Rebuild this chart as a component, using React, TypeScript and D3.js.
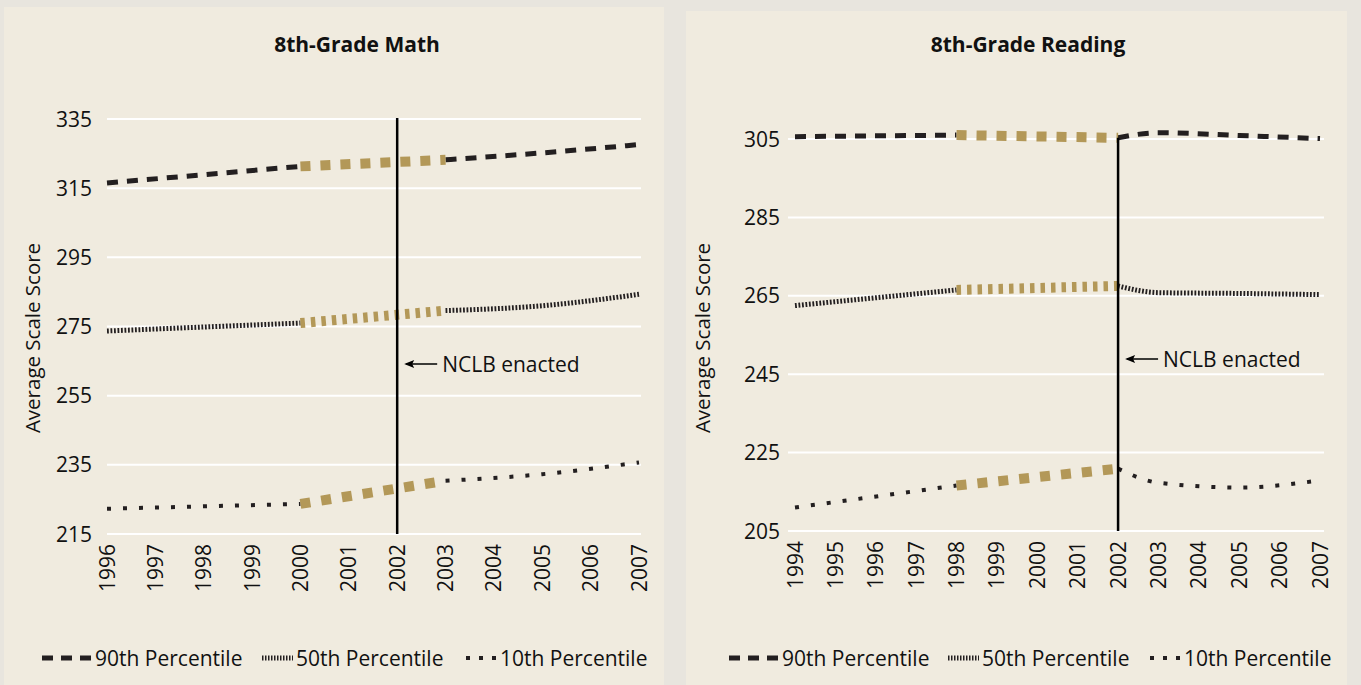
import { curveMonotoneX, line, scaleLinear, range } from "d3";

const BLACK = "#231f20";
const GOLD = "#b39858";
const FONT = "'Open Sans', Roboto, sans-serif";
const FS = 21;

// 8th-grade math (NAEP years)
const mathYears = [1996, 2000, 2003, 2005, 2007];
const math90 = [316.5, 321.3, 323.2, 325.2, 327.6];
const math50 = [273.7, 276, 279.6, 281, 284.3];
const math10 = [222.3, 223.7, 230.4, 232.3, 235.7];

// 8th-grade reading
const readYears = [1994, 1998, 2002, 2003, 2005, 2007];
const read90 = [305.6, 306, 305.3, 306.6, 305.9, 305.1];
const read50 = [262.5, 266.5, 267.5, 265.8, 265.6, 265.3];
const read10 = [211, 216.6, 220.9, 217.3, 216.1, 217.9];

const seriesNames = ["90th Percentile", "50th Percentile", "10th Percentile"];

// black style, gold style per series
const STYLES = [
  { black: { w: 5, dash: "11,9" }, gold: { w: 10, dash: "10,10" } },
  { black: { w: 5, dash: "1.8,1.7" }, gold: { w: 10, dash: "4.5,6" } },
  { black: { w: 4, dash: "4,12" }, gold: { w: 10, dash: "10,11" } },
];

type Pt = { year: number; value: number };

interface PanelProps {
  title: string;
  years: number[];
  series: number[][];
  yTicks: number[];
  xDomain: [number, number];
  xRange: [number, number];
  yRange: [number, number];
  gridX: [number, number];
  goldFrom: number;
  goldTo: number;
  lineTop: number | null;
  arrowY: number;
  box: { x: number; y: number; w: number; h: number };
  titleX: number;
  axisTitleX: number;
  legendX: number[];
}

function Panel(p: PanelProps) {
  const x = scaleLinear().domain(p.xDomain).range(p.xRange);
  const y = scaleLinear()
    .domain([p.yTicks[0], p.yTicks[p.yTicks.length - 1]])
    .range(p.yRange);
  const xTicks = range(p.xDomain[0], p.xDomain[1] + 1);
  const path = line<Pt>()
    .x((d) => x(d.year))
    .y((d) => y(d.value))
    .curve(curveMonotoneX);
  const nclbX = x(2002);
  const legendY = 658;

  return (
    <g>
      <rect x={p.box.x} y={p.box.y} width={p.box.w} height={p.box.h} fill="#f0ebdf" />
      <text x={p.titleX} y={52} textAnchor="middle" fontSize={FS} fontWeight={700} fill="#111">
        {p.title}
      </text>
      {p.yTicks.map((t) => (
        <g key={t}>
          <line x1={p.gridX[0]} x2={p.gridX[1]} y1={y(t)} y2={y(t)} stroke="#fff" strokeWidth={2} />
          <text x={p.xRange[0] - 15} y={y(t)} dy="0.36em" textAnchor="end" fontSize={FS} fill="#111">
            {t}
          </text>
        </g>
      ))}
      {xTicks.map((t) => (
        <text
          key={t}
          transform={`translate(${x(t)},${p.yRange[0] + 10}) rotate(-90)`}
          dy="0.36em"
          textAnchor="end"
          fontSize={FS}
          fill="#111"
        >
          {t}
        </text>
      ))}
      <text
        transform={`translate(${p.axisTitleX},${338}) rotate(-90)`}
        textAnchor="middle"
        fontSize={FS - 0.5}
        fill="#111"
      >
        Average Scale Score
      </text>
      {p.series.map((vals, i) => {
        const pts = p.years.map((year, k) => ({ year, value: vals[k] }));
        const before = pts.filter((d) => d.year <= p.goldFrom);
        const mid = pts.filter((d) => d.year >= p.goldFrom && d.year <= p.goldTo);
        const after = pts.filter((d) => d.year >= p.goldTo);
        const st = STYLES[i];
        return (
          <g key={i} fill="none">
            <path d={path(before) ?? ""} stroke={BLACK} strokeWidth={st.black.w} strokeDasharray={st.black.dash} />
            <path d={path(after) ?? ""} stroke={BLACK} strokeWidth={st.black.w} strokeDasharray={st.black.dash} />
            <path d={path(mid) ?? ""} stroke={GOLD} strokeWidth={st.gold.w} strokeDasharray={st.gold.dash} />
          </g>
        );
      })}
      <line
        x1={nclbX}
        x2={nclbX}
        y1={p.lineTop === null ? p.yRange[1] - 1 : y(p.lineTop)}
        y2={p.yRange[0]}
        stroke="#000"
        strokeWidth={2.5}
      />
      <line x1={nclbX + 9} x2={nclbX + 40} y1={p.arrowY} y2={p.arrowY} stroke="#000" strokeWidth={1.5} />
      <path
        d={`M${nclbX + 7},${p.arrowY} L${nclbX + 17},${p.arrowY - 4} L${nclbX + 15},${p.arrowY} L${nclbX + 17},${p.arrowY + 4} Z`}
        fill="#000"
      />
      <text x={nclbX + 45} y={p.arrowY} dy="0.36em" fontSize={FS} fill="#111">
        NCLB enacted
      </text>
      {seriesNames.map((name, i) => {
        const lx = p.legendX[i];
        const len = i === 0 ? 50 : 31;
        return (
          <g key={name}>
            <line
              x1={lx}
              x2={lx + len}
              y1={legendY}
              y2={legendY}
              stroke={BLACK}
              strokeWidth={STYLES[i].black.w}
              strokeDasharray={i === 1 ? "1.5,1.5" : i === 0 ? "11,8" : "4,9"}
            />
            <text x={lx + len + 3} y={legendY} dy="0.36em" fontSize={FS} fill="#111">
              {name}
            </text>
          </g>
        );
      })}
    </g>
  );
}

export default function App() {
  return (
    <div style={{ position: "fixed", left: 0, top: 0 }}>
      <svg width={1361} height={685} style={{ display: "block", fontFamily: FONT }}>
        <rect width={1361} height={685} fill="#e8e5de" />
        <Panel
          title="8th-Grade Math"
          years={mathYears}
          series={[math90, math50, math10]}
          yTicks={range(215, 336, 20)}
          xDomain={[1996, 2007]}
          xRange={[107, 639]}
          yRange={[534, 119]}
          gridX={[107, 641]}
          goldFrom={2000}
          goldTo={2003}
          lineTop={null}
          arrowY={364}
          box={{ x: 4, y: 7, w: 660, h: 690 }}
          titleX={357}
          axisTitleX={40}
          legendX={[42, 262, 466]}
        />
        <Panel
          title="8th-Grade Reading"
          years={readYears}
          series={[read90, read50, read10]}
          yTicks={range(205, 306, 20)}
          xDomain={[1994, 2007]}
          xRange={[795, 1320]}
          yRange={[531, 139]}
          gridX={[788, 1324]}
          goldFrom={1998}
          goldTo={2002}
          lineTop={read90[2]}
          arrowY={359}
          box={{ x: 686, y: 11, w: 661, h: 690 }}
          titleX={1028}
          axisTitleX={710}
          legendX={[729, 948, 1150]}
        />
      </svg>
    </div>
  );
}
